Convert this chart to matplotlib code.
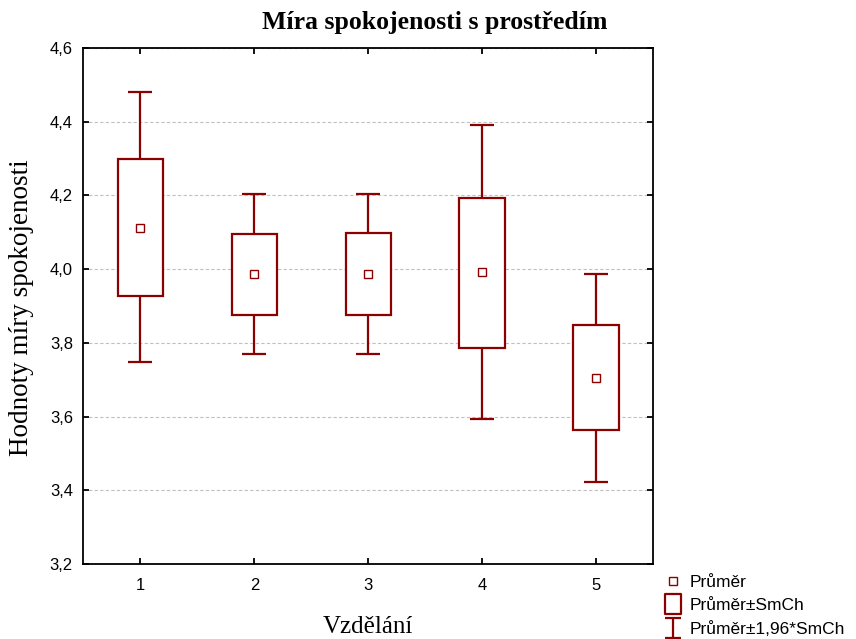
import matplotlib
matplotlib.use('Agg')
import matplotlib.pyplot as plt
from matplotlib.lines import Line2D
from matplotlib.path import Path

# hodnoty
vzdelani = [1, 2, 3, 4, 5]
prumer = [4.111, 3.986, 3.986, 3.992, 3.704]
smch_dolni = [3.927, 3.875, 3.876, 3.786, 3.563]
smch_horni = [4.300, 4.095, 4.097, 4.193, 3.848]
ci_dolni = [3.748, 3.769, 3.770, 3.593, 3.422]
ci_horni = [4.480, 4.203, 4.203, 4.390, 3.987]
y_ticks = [3.2, 3.4, 3.6, 3.8, 4.0, 4.2, 4.4, 4.6]

barva = '#8b0000'
serif = 'Liberation Serif'
sans = 'Liberation Sans'

fig = plt.figure(figsize=(8.56, 6.39), dpi=100)
ax = fig.add_axes([0.0975, 0.1174, 0.6655, 0.8075])

# vousy (prumer +- 1,96*SmCh)
yerr = [[m - lo for m, lo in zip(prumer, ci_dolni)],
        [hi - m for m, hi in zip(prumer, ci_horni)]]
ax.errorbar(vzdelani, prumer, yerr=yerr, fmt='none', ecolor=barva,
            elinewidth=1.6, capsize=8.3, capthick=1.6, zorder=2)

# krabice (prumer +- SmCh)
ax.bar(vzdelani, [hi - lo for hi, lo in zip(smch_horni, smch_dolni)],
       bottom=smch_dolni, width=0.4, facecolor='white', edgecolor=barva,
       linewidth=1.6, zorder=3)

# prumer
ax.plot(vzdelani, prumer, ls='none', marker='s', ms=5.5, mfc='white',
        mec=barva, mew=1.0, zorder=4)

ax.set_xlim(0.5, 5.5)
ax.set_ylim(3.2, 4.6)
ax.set_xticks(vzdelani)
ax.set_yticks(y_ticks)
ax.set_yticklabels([f'{v:.1f}'.replace('.', ',') for v in y_ticks])
ax.tick_params(direction='in', length=4, width=1.3, top=True, right=True,
               labelsize=12)
ax.tick_params(axis='y', pad=7.6)
ax.tick_params(axis='x', pad=10)
for lab in ax.get_xticklabels() + ax.get_yticklabels():
    lab.set_family(sans)
for s in ax.spines.values():
    s.set_linewidth(1.3)

ax.yaxis.grid(True, color='#c0c0c0', linestyle=(0, (3, 2)), linewidth=0.8)
ax.set_axisbelow(True)

fig.text(435 / 856, 1 - 22 / 639, 'Míra spokojenosti s prostředím',
         family=serif, weight='bold', fontsize=18.5, ha='center', va='center')
fig.text(22 / 856, 1 - 308 / 639, 'Hodnoty míry spokojenosti',
         family=serif, fontsize=19.5, rotation=90, ha='center', va='center')
fig.text(368 / 856, 1 - 627 / 639, 'Vzdělání',
         family=serif, fontsize=18, ha='center', va='center')

# legenda
box = Path([(-0.8, -1), (0.8, -1), (0.8, 1), (-0.8, 1), (-0.8, -1)],
           [Path.MOVETO, Path.LINETO, Path.LINETO, Path.LINETO, Path.CLOSEPOLY])
ibeam = Path([(-0.8, 1), (0.8, 1), (0, 1), (0, -1), (-0.8, -1), (0.8, -1)],
             [Path.MOVETO, Path.LINETO, Path.MOVETO, Path.LINETO,
              Path.MOVETO, Path.LINETO])
handles = [
    Line2D([], [], ls='none', marker='s', ms=5.5, mfc='white', mec=barva, mew=1.0),
    Line2D([], [], ls='none', marker=box, ms=15, mfc='none', mec=barva, mew=1.6),
    Line2D([], [], ls='none', marker=ibeam, ms=15, mfc='none', mec=barva, mew=1.6),
]
labels = ['Průměr', 'Průměr±SmCh', 'Průměr±1,96*SmCh']
fig.legend(handles, labels, loc='upper left',
           bbox_to_anchor=(663 / 856, 1 - 575 / 639), frameon=False,
           prop={'family': sans, 'size': 12.5}, handlelength=1.2,
           handletextpad=0.35, labelspacing=0.46, borderaxespad=0,
           borderpad=0)

fig.savefig('out.png', dpi=100)
